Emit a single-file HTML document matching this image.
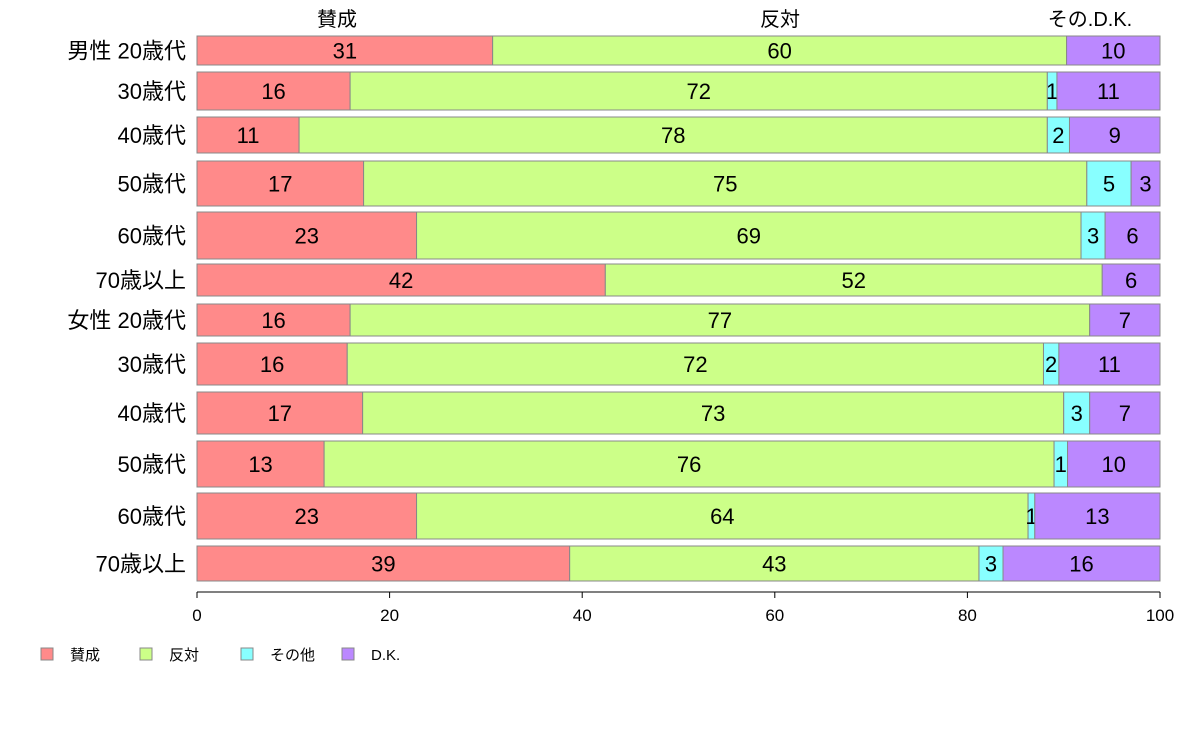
<!DOCTYPE html>
<html><head><meta charset="utf-8"><style>
body{margin:0;background:#fff;}
svg{display:block;font-family:"Liberation Sans","Noto Sans CJK JP",sans-serif;}
</style></head><body>
<svg id="chart" width="1188" height="736" viewBox="0 0 1188 736" xmlns="http://www.w3.org/2000/svg">
<g id="bars"></g>
<g id="axis"></g>
<g id="legend"></g>
<text x="337" y="26" font-size="20" text-anchor="middle">賛成</text>
<text x="780" y="26" font-size="20" text-anchor="middle">反対</text>
<text x="1090" y="26" font-size="20" text-anchor="middle">その.D.K.</text>
</svg>
<script>
const categories=["男性 20歳代","30歳代","40歳代","50歳代","60歳代","70歳以上","女性 20歳代","30歳代","40歳代","50歳代","60歳代","70歳以上"];
const support=[30.7,15.9,10.6,17.3,22.8,42.4,15.9,15.6,17.2,13.2,22.8,38.7];
const oppose=[59.6,72.4,77.7,75.1,69.0,51.6,76.8,72.3,72.8,75.8,63.5,42.5];
const other=[0,1.0,2.3,4.6,2.5,0,0,1.6,2.7,1.4,0.7,2.5];
const dk=[9.7,10.7,9.4,3.0,5.7,6.0,7.3,10.5,7.3,9.6,13.0,16.3];
const seriesNames=["賛成","反対","その他","D.K."];
const ticks=[0,20,40,60,80,100];
const rowTop=[36,72,117,161,212,264,304,343,392,441,493,546];
const rowBottom=[65,110,153,206,259,296,336,385,434,487,539,581];
const colors=["#FF8A8A","#CCFF88","#88FFFF","#BB88FF"];
const NS="http://www.w3.org/2000/svg";
const x0=197,x1=1160;
const xs=v=>x0+(x1-x0)*v/100;
function mk(tag,attrs,parent){const e=document.createElementNS(NS,tag);for(const k in attrs)e.setAttribute(k,attrs[k]);parent.appendChild(e);return e;}
const bars=document.getElementById('bars');
const series=[support,oppose,other,dk];
categories.forEach((c,i)=>{
  const t=rowTop[i],b=rowBottom[i],h=b-t,cy=(t+b)/2;
  const lab=mk('text',{x:186,y:cy+8,'font-size':22,'text-anchor':'end'},bars);
  
  
  lab.textContent=c;
  let acc=0;
  series.forEach((s,j)=>{
    const v=s[i];
    if(v<=0)return;
    const r=mk('rect',{x:xs(acc),y:t,width:xs(acc+v)-xs(acc),height:h,fill:colors[j],stroke:'#888','stroke-width':1},bars);
    
    
    const tx=mk('text',{x:(xs(acc)+xs(acc+v))/2,y:cy+8,'font-size':22,'text-anchor':'middle'},bars);
    
    
    tx.textContent=Math.max(1,Math.round(v));
    acc+=v;
  });
});
const ax=document.getElementById('axis');
const al=mk('line',{x1:x0,x2:x1,y1:592,y2:592,stroke:'#000'},ax);


ticks.forEach(v=>{
  const l=mk('line',{x1:xs(v),x2:xs(v),y1:592,y2:598,stroke:'#000'},ax);
  
  
  const t=mk('text',{x:xs(v),y:621,'font-size':17,'text-anchor':'middle'},ax);
  
  
  t.textContent=v;
});
const lg=document.getElementById('legend');
const lx=[41,140,241,342];
seriesNames.forEach((n,j)=>{
  const r=mk('rect',{x:lx[j],y:648,width:12,height:12,fill:colors[j],stroke:'#888'},lg);
  
  
  const t=mk('text',{x:lx[j]+29,y:660,'font-size':15},lg);
  
  
  t.textContent=n;
});
</script>
</body></html>
